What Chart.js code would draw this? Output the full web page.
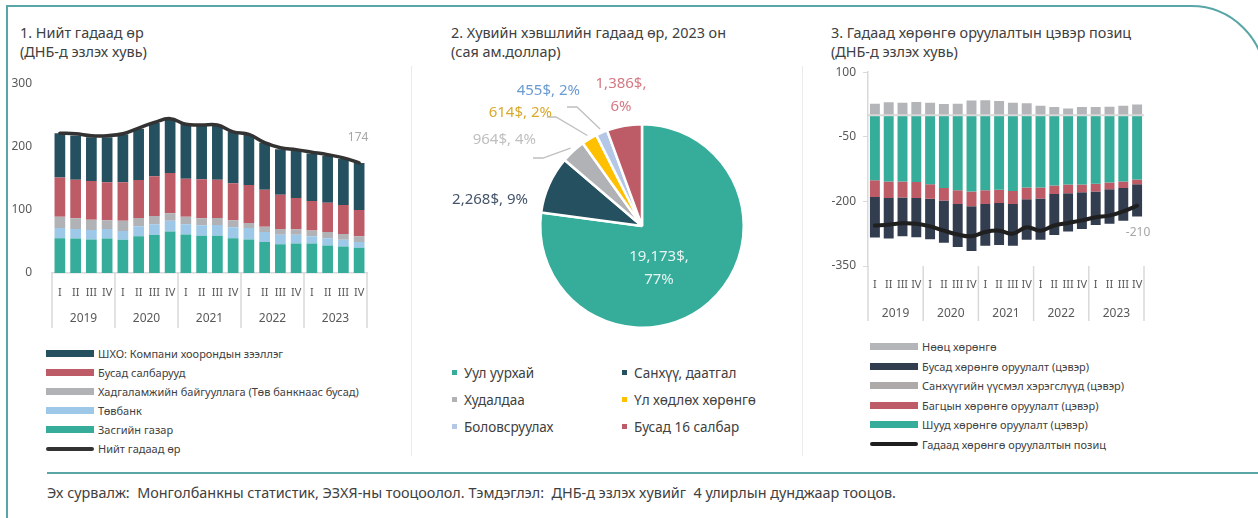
<!DOCTYPE html>
<html lang="mn">
<head>
<meta charset="utf-8">
<script src="https://cdn.jsdelivr.net/npm/chart.js@4.4.1/dist/chart.umd.min.js"></script>
<style>
  body { margin: 0; width: 1258px; height: 518px; overflow: hidden; background: #fff;
         font-family: 'Noto Sans', sans-serif; color: #404040; position: relative; }
  .frame { position: absolute; left: 6px; top: 5px; width: 1260px; height: 600px;
           border: 2px solid #5aa6a6; border-top-right-radius: 75px; box-sizing: border-box; }
  .rule { position: absolute; left: 47px; top: 472px; width: 1211px; height: 2px; background: #5aa6a6; }
  .sep { position: absolute; top: 66px; width: 1px; height: 390px; background: #ebebeb; }
  .title { position: absolute; top: 23px; font-size: 14.4px; line-height: 19px; color: #404040; white-space: nowrap; }
  canvas { position: absolute; }
  .legend { position: absolute; font-size: 11px; color: #404040; }
  .legend .row { display: flex; align-items: center; height: 19px; white-space: nowrap; }
  .legend .sw { width: 48px; height: 7px; margin-right: 4px; }
  .legend .ln { width: 48px; height: 4px; border-radius: 2px; margin-right: 4px; }
  .legend2 { position: absolute; left: 452px; top: 359px; display: grid;
             grid-template-columns: 170px 170px; font-size: 13.5px; color: #404040; }
  .legend2 .row { display: flex; align-items: center; height: 27px; white-space: nowrap; }
  .legend2 .mk { width: 5px; height: 5px; margin-right: 7px; }
  .note { position: absolute; left: 47px; top: 483px; font-size: 14.4px; white-space: pre; color: #404040; }
</style>
</head>
<body>
<div class="frame"></div>
<div class="rule"></div>
<div class="sep" style="left:411px"></div>
<div class="sep" style="left:802px"></div>

<div class="title" style="left:20px">1. Нийт гадаад өр<br>(ДНБ-д эзлэх хувь)</div>
<div class="title" style="left:451px">2. Хувийн хэвшлийн гадаад өр, 2023 он<br>(сая ам.доллар)</div>
<div class="title" style="left:831px">3. Гадаад хөрөнгө оруулалтын цэвэр позиц<br>(ДНБ-д эзлэх хувь)</div>

<canvas id="debtChart" width="395" height="271" style="left:0px;top:64px"></canvas>
<canvas id="sectorChart" width="380" height="290" style="left:420px;top:66px"></canvas>
<canvas id="iipChart" width="360" height="277" style="left:800px;top:58px"></canvas>

<div class="legend" id="debtLegend" style="left:46px;top:344px"></div>
<div class="legend2" id="sectorLegend"></div>
<div class="legend" id="iipLegend" style="left:870px;top:337px"></div>

<div class="note">Эх сурвалж:  Монголбанкны статистик, ЭЗХЯ-ны тооцоолол. Тэмдэглэл:  ДНБ-д эзлэх хувийг  4 улирлын дунджаар тооцов.</div>

<script>
// Categories
const quarters = ['I', 'II', 'III', 'IV', 'I', 'II', 'III', 'IV', 'I', 'II', 'III', 'IV',
                  'I', 'II', 'III', 'IV', 'I', 'II', 'III', 'IV'];
const years = ['2019', '2020', '2021', '2022', '2023'];

// 1. External debt, % of GDP
const debtGov = [55, 54.5, 53, 54.5, 52.5, 58, 60, 65.5, 61, 59, 59, 55, 53, 49, 45.5, 46.5, 46.5, 43.5, 42, 40];
const debtCentralBank = [16, 15, 15, 15, 14, 16, 17, 17, 16, 16.5, 17, 17.5, 18, 16, 15, 14, 11.5, 11.5, 10.5, 9];
const debtDeposit = [18, 17, 16, 14, 16, 13, 13, 12, 12, 11, 11, 11, 8, 8, 9, 8.5, 9, 10, 9, 9];
const debtOther = [62, 61, 61.5, 60, 61, 60, 63, 63.5, 60, 61.5, 60.5, 58.5, 60, 58.5, 54, 49.5, 47, 46, 46, 41.5];
const debtIntercompany = [70, 70, 69, 71, 76, 81, 84, 86, 87, 86, 85, 81, 79, 74.5, 72, 75, 75, 74.5, 73, 74.5];
const debtTotal = [221, 220, 217, 217, 220, 229, 238, 244, 235, 234, 234, 223, 219, 206, 198, 195, 191, 187, 182, 174];

// 2. Private sector external debt by sector, 2023 (mln USD)
const sectorNames = ['Уул уурхай', 'Санхүү, даатгал', 'Худалдаа', 'Үл хөдлөх хөрөнгө', 'Боловсруулах', 'Бусад 16 салбар'];
const sectorDebt = [19173, 2268, 964, 614, 455, 1386];
const sectorShare = [77, 9, 4, 2, 2, 6];

// 3. Net international investment position, % of GDP
const iipFDI = [-151, -154, -154, -155, -160, -169, -174, -177, -174, -173, -176, -168, -168, -163, -161, -161, -159, -156, -154, -149];
const iipPortfolio = [-39, -38, -37, -37, -34, -29, -32, -34, -32, -31, -30, -27, -25, -20, -20, -18, -18, -16, -15, -11];
const iipDerivatives = [0, 0, 0, 0, 0, 0, 0, 0, 0, 0, 0, 0, 0, 0, 0, 0, 0, 0, 0, 0];
const iipOther = [-94, -94, -90, -91, -94, -98, -100, -104, -97, -97, -97, -94, -96, -95, -89, -85, -78, -80, -76, -75];
const iipReserves = [27, 30, 29, 31, 29, 26, 27, 34, 35, 33, 29, 28, 22, 19, 16, 19, 19, 20, 22, 25];
const iipNet = [-256, -254, -251, -252, -258, -268, -277, -281, -271, -268, -275, -260, -268, -256, -250, -244, -237, -233, -223, -210];

const TEAL = '#36ad9b', DARK_TEAL = '#25505f', RED = '#bd5b67', GRAY = '#b1b2b6', LIGHT_BLUE = '#9dc8e8';
const NAVY = '#323d4f', WARM_GRAY = '#aeaaaa', GOLD = '#ffc000', PALE_BLUE = '#b4c7e7';
const FONT = "'Noto Sans', sans-serif";

// draws the vertical year separators under the x axis
const yearDividers = {
    id: 'yearDividers',
    afterDraw(chart, args, opts) {
        const x = chart.scales.x, x2 = chart.scales.x2;
        const step = (x.right - x.left) / quarters.length;
        const ctx = chart.ctx;
        ctx.save();
        ctx.strokeStyle = '#d9d9d9';
        ctx.lineWidth = 1.5;
        for (let i = 0; i <= quarters.length; i += 4) {
            const px = x.left + i * step;
            ctx.beginPath();
            ctx.moveTo(px, chart.chartArea.bottom);
            ctx.lineTo(px, x2.bottom + opts.extra);
            ctx.stroke();
        }
        ctx.restore();
    }
};

// writes the last value of the line next to its end
const endLabel = {
    id: 'endLabel',
    afterDatasetsDraw(chart, args, opts) {
        const idx = chart.data.datasets.findIndex(d => d.type === 'line');
        const pts = chart.getDatasetMeta(idx).data;
        const last = pts[pts.length - 1];
        const values = chart.data.datasets[idx].data;
        const ctx = chart.ctx;
        ctx.save();
        ctx.font = '12px ' + FONT;
        ctx.fillStyle = '#a6a6a6';
        ctx.textAlign = 'center';
        ctx.textBaseline = 'middle';
        ctx.fillText(String(values[values.length - 1]), last.x + opts.dx, last.y + opts.dy);
        ctx.restore();
    }
};

const zeroLine = {
    id: 'zeroLine',
    afterDatasetsDraw(chart) {
        const y = chart.scales.y.getPixelForValue(0);
        const ctx = chart.ctx;
        ctx.save();
        ctx.strokeStyle = '#d9d9d9';
        ctx.lineWidth = 2;
        ctx.beginPath();
        ctx.moveTo(chart.chartArea.left, y);
        ctx.lineTo(chart.chartArea.right, y);
        ctx.stroke();
        ctx.restore();
    }
};

function barSet(label, data, color, width) {
    return { type: 'bar', label: label, data: data, backgroundColor: color, stack: 'bars',
             barPercentage: width, categoryPercentage: 1, order: 1 };
}

// two-row category axis: quarters, then years
function quarterAxes(qPad, qHeight, yPad, yHeight, border) {
    return {
        x: {
            type: 'category', labels: quarters, stacked: true,
            grid: { display: false },
            border: { display: border, color: '#d9d9d9', width: 1.5 },
            ticks: { color: '#595959', font: { family: FONT, size: 11 }, padding: qPad, maxRotation: 0, autoSkip: false },
            afterFit: s => { s.height = qHeight; }
        },
        x2: {
            type: 'category', labels: years, offset: true, position: 'bottom',
            grid: { display: false }, border: { display: false },
            ticks: { color: '#595959', font: { family: FONT, size: 12 }, padding: yPad, maxRotation: 0 },
            afterFit: s => { s.height = yHeight; }
        }
    };
}

// ---- Chart 1
const debtSets = [
    barSet('Засгийн газар', debtGov, TEAL, 0.68),
    barSet('Төвбанк', debtCentralBank, LIGHT_BLUE, 0.68),
    barSet('Хадгаламжийн байгууллага (Төв банкнаас бусад)', debtDeposit, GRAY, 0.68),
    barSet('Бусад салбарууд', debtOther, RED, 0.68),
    barSet('ШХО: Компани хоорондын зээллэг', debtIntercompany, DARK_TEAL, 0.68),
    { type: 'line', label: 'Нийт гадаад өр', data: debtTotal, borderColor: '#333333', borderWidth: 3.5,
      pointRadius: 0, tension: 0.4, stack: 'line', order: 0, borderCapStyle: 'round' }
];

const debtScales = quarterAxes(5.2, 26, 4.6, 27, true);
debtScales.y = {
    stacked: true, min: 0, max: 300,
    grid: { display: false }, border: { display: false },
    ticks: { stepSize: 100, color: '#595959', font: { family: FONT, size: 12 }, padding: 12 },
    afterFit: s => { s.width = 52; }
};

new Chart(document.getElementById('debtChart'), {
    data: { labels: quarters, datasets: debtSets },
    options: {
        responsive: false, animation: false, events: [], devicePixelRatio: 1,
        layout: { padding: { top: 13, right: 28, bottom: 9, left: 0 } },
        scales: debtScales,
        plugins: { legend: { display: false }, tooltip: { enabled: false },
                   yearDividers: { extra: 2 }, endLabel: { dx: -1, dy: -25 } }
    },
    plugins: [yearDividers, endLabel]
});

// ---- Chart 2
const sectorColors = [TEAL, DARK_TEAL, GRAY, GOLD, PALE_BLUE, RED];
const sectorLabelColors = ['#e6f4f1', '#44546a', '#bfbfbf', '#d9a92a', '#6a9bd1', '#d47983'];
// label placement relative to the pie centre, with optional leader start and elbow
const sectorLabelLayout = [
    { dx: 17, dy: 42, align: 'center' },
    { dx: -114, dy: -26, align: 'right' },
    { dx: -106, dy: -86, align: 'right', lead: [[-109, -68], [-99, -68]] },
    { dx: -90, dy: -113, align: 'right', lead: [[-95, -109], [-86, -109]] },
    { dx: -62, dy: -135, align: 'right', lead: [[-75, -119], [-65, -119]] },
    { dx: -21, dy: -131, align: 'center' }
];

const pieLabels = {
    id: 'pieLabels',
    afterDatasetsDraw(chart) {
        const ctx = chart.ctx;
        const arcs = chart.getDatasetMeta(0).data;
        ctx.save();
        ctx.font = '15px ' + FONT;
        ctx.textBaseline = 'middle';
        arcs.forEach((arc, i) => {
            const L = sectorLabelLayout[i];
            const cx = arc.x, cy = arc.y;
            const money = sectorDebt[i].toLocaleString('en-US') + '$,';
            const pct = sectorShare[i] + '%';
            if (L.lead) {
                const mid = (arc.startAngle + arc.endAngle) / 2;
                const r = arc.outerRadius + 4;
                ctx.strokeStyle = '#bfbfbf';
                ctx.lineWidth = 1.3;
                ctx.beginPath();
                ctx.moveTo(cx + L.lead[0][0], cy + L.lead[0][1]);
                ctx.lineTo(cx + L.lead[1][0], cy + L.lead[1][1]);
                ctx.lineTo(cx + Math.cos(mid) * r, cy + Math.sin(mid) * r);
                ctx.stroke();
            }
            ctx.fillStyle = sectorLabelColors[i];
            ctx.textAlign = L.align;
            if (L.align === 'center') {
                ctx.fillText(money, cx + L.dx, cy + L.dy - 11.5);
                ctx.fillText(pct, cx + L.dx, cy + L.dy + 11.5);
            } else {
                ctx.fillText(money + ' ' + pct, cx + L.dx, cy + L.dy);
            }
        });
        ctx.restore();
    }
};

new Chart(document.getElementById('sectorChart'), {
    type: 'pie',
    data: { labels: sectorNames,
            datasets: [{ data: sectorDebt, backgroundColor: sectorColors, borderColor: '#ffffff', borderWidth: 2.5 }] },
    options: {
        responsive: false, animation: false, events: [], devicePixelRatio: 1,
        layout: { padding: { left: 119, right: 55, top: 57, bottom: 27 } },
        plugins: { legend: { display: false }, tooltip: { enabled: false } }
    },
    plugins: [pieLabels]
});

// ---- Chart 3
const iipSets = [
    barSet('Шууд хөрөнгө оруулалт (цэвэр)', iipFDI, TEAL, 0.72),
    barSet('Багцын хөрөнгө оруулалт (цэвэр)', iipPortfolio, RED, 0.72),
    barSet('Санхүүгийн үүсмэл хэрэгслүүд (цэвэр)', iipDerivatives, WARM_GRAY, 0.72),
    barSet('Бусад хөрөнгө оруулалт (цэвэр)', iipOther, NAVY, 0.72),
    barSet('Нөөц хөрөнгө', iipReserves, '#b4b5b9', 0.72),
    { type: 'line', label: 'Гадаад хөрөнгө оруулалтын позиц', data: iipNet, borderColor: '#1f1f1f', borderWidth: 4,
      pointRadius: 0, tension: 0.4, stack: 'line', order: 0, borderCapStyle: 'round' }
];

const iipScales = quarterAxes(4.4, 25, 6.9, 29, false);
iipScales.y = {
    stacked: true, min: -350, max: 100,
    grid: { display: true, drawOnChartArea: false, drawTicks: true, tickLength: 5, color: '#d9d9d9' },
    border: { display: true, color: '#d9d9d9', width: 1.5 },
    ticks: { stepSize: 150, color: '#595959', font: { family: FONT, size: 12 }, padding: 7 },
    afterFit: s => { s.width = 68; }
};

new Chart(document.getElementById('iipChart'), {
    data: { labels: quarters, datasets: iipSets },
    options: {
        responsive: false, animation: false, events: [], devicePixelRatio: 1,
        layout: { padding: { top: 13, right: 16, bottom: 15, left: 0 } },
        scales: iipScales,
        plugins: { legend: { display: false }, tooltip: { enabled: false },
                   yearDividers: { extra: 1 }, endLabel: { dx: 1, dy: 27 } }
    },
    plugins: [zeroLine, yearDividers, endLabel]
});

// ---- HTML legends
function buildLegend(el, sets) {
    sets.slice().reverse().filter(d => d.type === 'bar').forEach(d => {
        el.insertAdjacentHTML('beforeend',
            '<div class="row"><span class="sw" style="background:' + d.backgroundColor + '"></span>' + d.label + '</div>');
    });
    const line = sets.find(d => d.type === 'line');
    el.insertAdjacentHTML('beforeend',
        '<div class="row"><span class="ln" style="background:' + line.borderColor + '"></span>' + line.label + '</div>');
}
buildLegend(document.getElementById('debtLegend'), debtSets);
buildLegend(document.getElementById('iipLegend'), iipSets);
document.querySelectorAll('#iipLegend .row').forEach(r => { r.style.height = '19.5px'; });

const sl = document.getElementById('sectorLegend');
sectorNames.forEach((n, i) => {
    sl.insertAdjacentHTML('beforeend',
        '<div class="row"><span class="mk" style="background:' + sectorColors[i] + '"></span>' + n + '</div>');
});
</script>
</body>
</html>
